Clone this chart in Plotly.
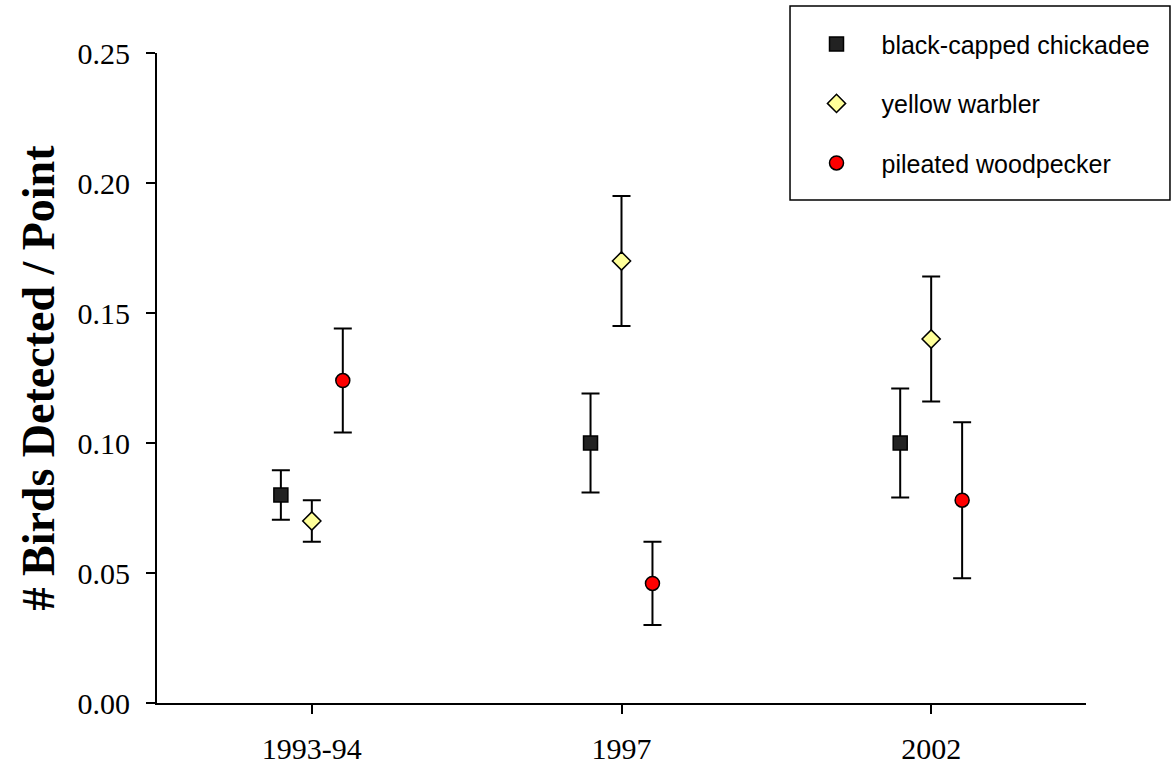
import plotly.graph_objects as go

categories = ["1993-94", "1997", "2002"]
species = ["black-capped chickadee", "yellow warbler", "pileated woodpecker"]

chickadee = [0.080, 0.100, 0.100]
chickadee_err = [0.0095, 0.019, 0.021]
warbler = [0.070, 0.170, 0.140]
warbler_err = [0.008, 0.025, 0.024]
woodpecker = [0.124, 0.046, 0.078]
woodpecker_err = [0.020, 0.016, 0.030]

offsets = [-0.1, 0.0, 0.1]
symbols = ["square", "diamond", "circle"]
colors = ["#222222", "#ffff99", "#ff0000"]
values = [chickadee, warbler, woodpecker]
errors = [chickadee_err, warbler_err, woodpecker_err]

fig = go.Figure()
for i, name in enumerate(species):
    xs = [j + offsets[i] for j in range(len(categories))]
    fig.add_trace(go.Scatter(
        x=xs, y=values[i], mode="markers", name=name,
        legendgroup=name,
        marker=dict(symbol=symbols[i], size=14, color=colors[i],
                    line=dict(color="black", width=1.5)),
        error_y=dict(type="data", array=errors[i], visible=True,
                     color="black", thickness=2, width=9),
    ))

fig.add_shape(type="rect", xref="paper", yref="paper",
              x0=0.6814, x1=1.0904, y0=0.774, y1=1.0723,
              line=dict(color="black", width=1.5), fillcolor="rgba(0,0,0,0)")

fig.update_layout(
    width=1174, height=765,
    margin=dict(l=157, r=88, t=53, b=62),
    plot_bgcolor="white", paper_bgcolor="white",
    font=dict(family="Liberation Serif", color="black"),
    showlegend=True,
    legend=dict(x=0.683, y=1.049, xanchor="left", yanchor="top",
                font=dict(family="Liberation Sans", size=25, color="black"),
                itemwidth=80, tracegroupgap=24, bgcolor="rgba(0,0,0,0)",
                borderwidth=0),
    xaxis=dict(range=[-0.5, 2.5], tickmode="array", tickvals=[0, 1, 2],
               ticktext=categories, showgrid=False, zeroline=False,
               showline=True, linecolor="black", linewidth=2,
               ticks="outside", ticklen=9, tickwidth=1.5, tickcolor="black",
               tickfont=dict(family="Liberation Serif", size=30),
               ticklabelstandoff=9, automargin=False),
    yaxis=dict(range=[0, 0.25], tickmode="array",
               tickvals=[0, 0.05, 0.10, 0.15, 0.20, 0.25],
               ticktext=["0.00", "0.05", "0.10", "0.15", "0.20", "0.25"],
               showgrid=False, zeroline=False,
               showline=True, linecolor="black", linewidth=2,
               ticks="outside", ticklen=9, tickwidth=1.5, tickcolor="black",
               tickfont=dict(family="Liberation Serif", size=30),
               ticklabelstandoff=10, automargin=False,
               title=dict(text="<b># Birds Detected / Point</b>",
                          font=dict(family="Liberation Serif", size=46),
                          standoff=8)),
)

fig.write_html("out.html")
